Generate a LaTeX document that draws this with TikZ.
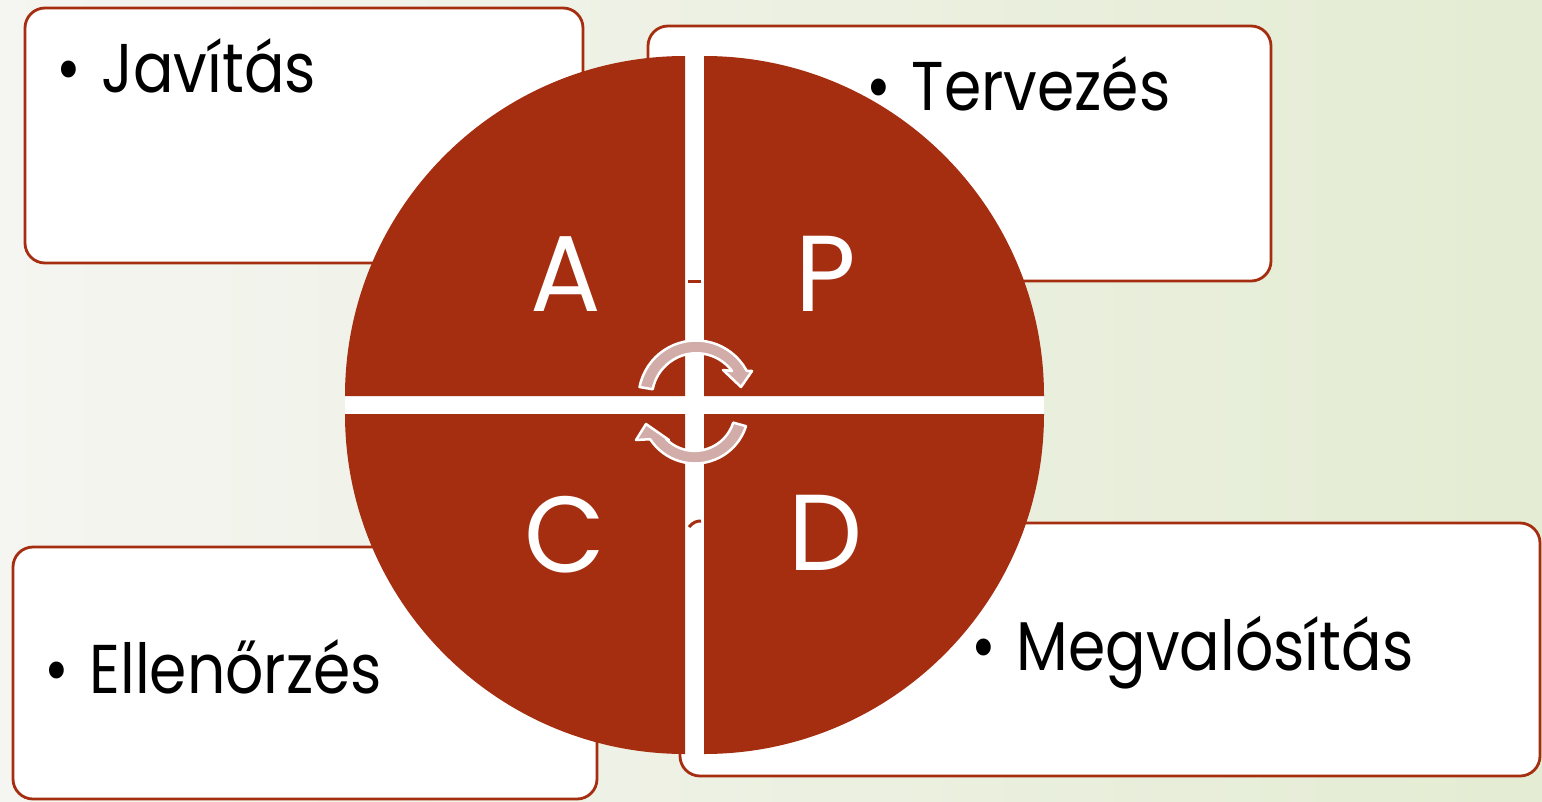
\documentclass[tikz,border=0pt]{standalone}
\usepackage{fontspec}
\setmainfont{Poppins}
\newfontfamily\itemfont[FakeStretch=0.87]{Poppins}
\newfontfamily\letterfont[FakeStretch=0.97]{Poppins}
\definecolor{rust}{RGB}{165,46,16}
\definecolor{arrowpink}{RGB}{209,172,169}
\definecolor{bgL}{RGB}{245,245,241}
\definecolor{bgR}{RGB}{228,236,211}
\tikzset{
  box/.style={draw=rust, line width=2.8pt, rounded corners=20pt, fill=white, inner sep=0pt, outer sep=0pt, anchor=north west},
  quad/.style={fill=rust},
  gap/.style={fill=white},
  itemtext/.style={font=\itemfont\fontsize{69}{80}\selectfont, anchor=base west, inner sep=0pt, text=black},
  letter/.style={font=\letterfont\fontsize{108}{120}\selectfont, anchor=base, inner sep=0pt, text=white},
  cyc/.style={fill=arrowpink, draw=white, line width=2.5pt, line join=round},
}
\begin{document}
\begin{tikzpicture}[x=1pt,y=-1pt]
\useasboundingbox (0,0) rectangle (1542,801);
\shade[left color=bgL, right color=bgR] (0,0) rectangle (1542,801);
% boxes
\node[box, minimum width=558, minimum height=255] (jav) at (25,8) {};
\node[box, minimum width=623, minimum height=255] (ter) at (648,26) {};
\node[box, minimum width=584, minimum height=252] (ell) at (13,547) {};
\node[box, minimum width=860, minimum height=253] (meg) at (680,523) {};
% white gaps between the quadrants
\fill[gap] (685,56) rectangle (704,754);
\fill[gap] (345,396) rectangle (1044,414);
% quadrants
\fill[quad] (685,396) -- (345,396) arc[start angle=180, end angle=270, radius=340] -- cycle;
\fill[quad] (704,396) -- (704,56) arc[start angle=270, end angle=360, radius=340] -- cycle;
\fill[quad] (704,414) -- (1044,414) arc[start angle=0, end angle=90, radius=340] -- cycle;
\fill[quad] (685,414) -- (685,754) arc[start angle=90, end angle=180, radius=340] -- cycle;
% small marks in the gap
\draw[rust, line width=3.5pt] (688,281.5) -- (701,281.5);
\draw[rust, line width=3pt] (689,527) .. controls (693,522) and (697,521) .. (701,521);
% texts
\node[itemtext] (tjav) at (56,92) {•\hspace{0.3em}Javítás};
\node[itemtext] (tter) at (866,110) {•\hspace{0.3em}Tervezés};
\node[itemtext] (tell) at (44,693) {•\hspace{0.3em}Ellenőrzés};
\node[itemtext] (tmeg) at (971,670) {•\hspace{0.3em}Megvalósítás};
\node[letter] (la) at (566,311) {A};
\node[letter] (lp) at (826,311) {P};
\node[letter] (lc) at (565,572) {C};
\node[letter] (ld) at (826,570) {D};
% cycle arrows
\draw[cyc] ([shift={(-169:57.5)}]696,398) arc[start angle=-169, end angle=-28.3, radius=57.5]
  -- (752,371) -- (741,387) -- (723,370) -- (732,371)
  arc[start angle=-36.9, end angle=-169, radius=44.5] -- cycle;
\draw[cyc] ([shift={(17.6:53.5)}]695,410) arc[start angle=17.6, end angle=146.9, radius=53.5]
  -- (636,440) -- (646,424) -- (669,440) -- (666,439)
  arc[start angle=135, end angle=17.6, radius=40.5] -- cycle;
\end{tikzpicture}
\end{document}
